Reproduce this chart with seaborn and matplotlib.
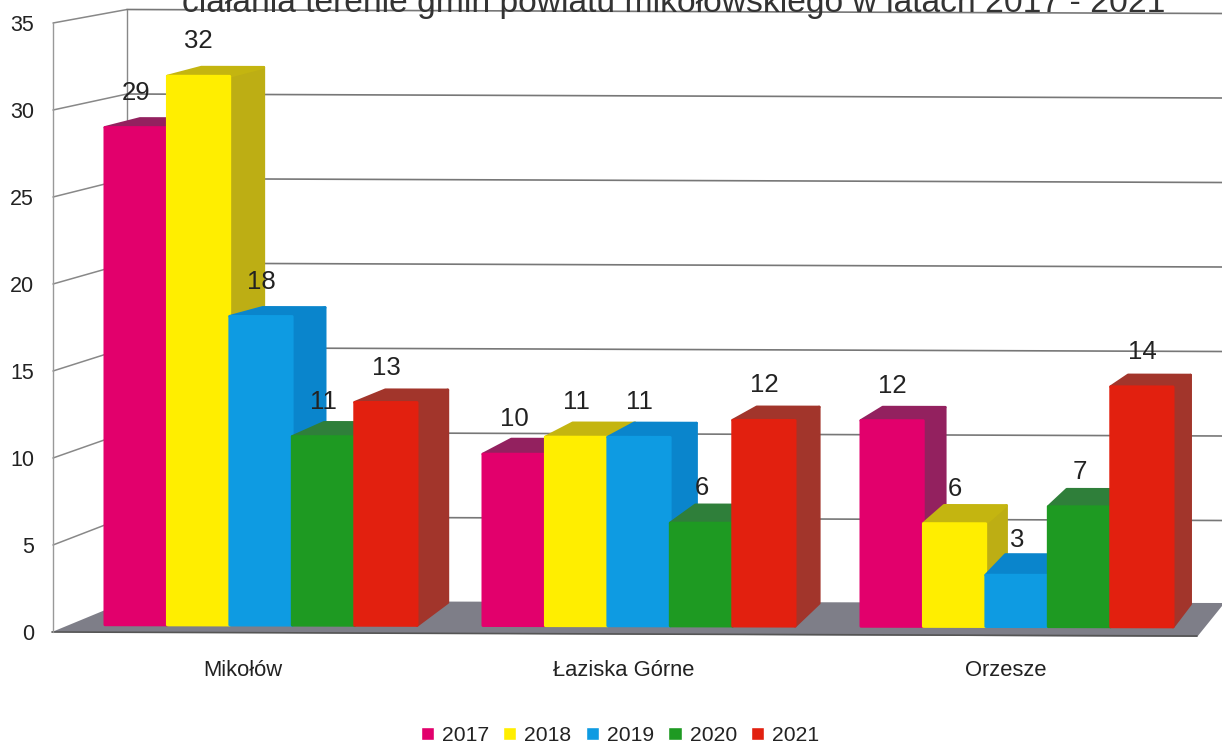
import pandas as pd
import seaborn as sns
import matplotlib.pyplot as plt
from matplotlib.patches import Polygon
from matplotlib.transforms import Affine2D

W, H = 1222, 744

title = 'ciałania terenie gmin powiatu mikołowskiego w latach 2017 - 2021'
gminy = ['Mikołów', 'Łaziska Górne', 'Orzesze']
lata = ['2017', '2018', '2019', '2020', '2021']
v2017 = [29, 10, 12]
v2018 = [32, 11, 6]
v2019 = [18, 11, 3]
v2020 = [11, 6, 7]
v2021 = [13, 12, 14]
y_ticks = [0, 5, 10, 15, 20, 25, 30, 35]

front_colors = ['#E2006C', '#FFEE00', '#0E9BE2', '#1E9A22', '#E2200F']
side_colors = ['#93215F', '#BDAE14', '#0A85CC', '#2F7F3A', '#A2352B']
top_colors = ['#93215F', '#C4B510', '#0A85CC', '#2F7F3A', '#A2352B']

df = pd.DataFrame({'gmina': gminy * 5,
                   'rok': [r for r in lata for _ in gminy],
                   'liczba': v2017 + v2018 + v2019 + v2020 + v2021})

sns.set_theme(style='white')
plt.rcParams['font.family'] = ['Liberation Sans', 'DejaVu Sans']
plt.rcParams['text.color'] = '#222222'


def px_axes(fig, left, top, right, bottom, zorder):
    a = fig.add_axes([left / W, 1 - bottom / H, (right - left) / W, (bottom - top) / H], zorder=zorder)
    a.patch.set_alpha(0)
    return a


fig = plt.figure(figsize=(W / 100, H / 100), dpi=100, facecolor='white')

# walls and floor, in pixel coordinates
frame = px_axes(fig, 0, 0, W, H, 0)
frame.set_xlim(0, W)
frame.set_ylim(H, 0)
frame.axis('off')


def y_front(v):
    return 632 - 17.4 * v


def y_back(v):
    return 601 - 16.9 * v


frame.add_patch(Polygon([(52, 632), (1197, 637), (1222, 606), (1222, 603), (127, 601)],
                        color='#7E7E88', lw=0))
frame.plot([52, 1197], [632, 636], color='#555555', lw=1.2)
for v in y_ticks[1:]:
    frame.plot([53, 127], [y_front(v), y_back(v)], color='#888888', lw=1.1)
    frame.plot([127, W], [y_back(v), y_back(v) + 4], color='#777777', lw=1.2)
frame.plot([53, 53], [y_front(35), y_front(0)], color='#999999', lw=1)
frame.plot([127, 127], [y_back(35), y_back(0)], color='#888888', lw=1)

# value axis labels
scale = px_axes(fig, 52, y_front(35), W, y_front(0), 1)
scale.set_ylim(0, 35)
scale.set_yticks(y_ticks)
scale.tick_params(axis='y', length=0, pad=13, labelsize=15.5, labelcolor='#222222')
scale.set_xticks([])
sns.despine(ax=scale, left=True, bottom=True)

# bars
ax = px_axes(fig, 52, 0, W, 625, 2)
sns.barplot(data=df, x='gmina', y='liczba', hue='rok', palette=front_colors,
            width=0.826, gap=0, saturation=1, ax=ax)
ax.patch.set_alpha(0)
ax.set_xlim((52 - 261) / 378, (W - 261) / 378)
ax.set_ylim(0, 625 / 17.15)
ax.set_yticks([])
ax.set_xlabel('')
ax.set_ylabel('')
sns.despine(ax=ax, left=True, bottom=True)

label_shift = [-18, -15, -11]
ax.set_xticks([i + label_shift[i] / 378 for i in range(3)])
ax.set_xticklabels(gminy, fontsize=15.8, color='#222222')
ax.tick_params(axis='x', length=0, pad=25.2)

# the scanned page is a little tilted: everything sinks slowly to the right
tilt = ax.transData + Affine2D().translate(-200, 0).skew_deg(0, -0.115).translate(200, 0)


def depth_x(x_data):
    # side faces get narrower towards the right of the picture
    return (38 - 0.0175 * (261 + 378 * x_data)) / 378


def depth_y(v):
    return max(9, 23 - 0.8 * v) / 17.15


for i, bars in enumerate(ax.containers):
    for rect in bars:
        x0, x1, h = rect.get_x(), rect.get_x() + rect.get_width(), rect.get_height()
        dx, dy = depth_x(x1), depth_y(h)
        side = Polygon([(x1, 0), (x1 + dx, depth_y(0)), (x1 + dx, h + dy), (x1, h)],
                       fc=side_colors[i], ec=side_colors[i], lw=2, joinstyle='round',
                       zorder=3 * i + 3, clip_on=False, transform=tilt)
        top = Polygon([(x0, h), (x0 + dx, h + dy), (x1 + dx, h + dy), (x1, h)],
                      fc=top_colors[i], ec=top_colors[i], lw=2, joinstyle='round',
                      zorder=3 * i + 3, clip_on=False, transform=tilt)
        ax.add_patch(side)
        ax.add_patch(top)
        rect.set(edgecolor=front_colors[i], linewidth=2, joinstyle='round',
                 zorder=3 * i + 4, clip_on=False, transform=tilt)
    for t in ax.bar_label(bars, padding=16.5, fontsize=18.5, color='#222222'):
        t.set_zorder(100)
        t.xycoords = tilt

sns.move_legend(ax, 'center', bbox_to_anchor=(620 / W, 1 - 735.5 / H), bbox_transform=fig.transFigure,
                ncol=5, title=None, frameon=False, fontsize=15.2, handlelength=0.62, handleheight=0.62,
                handletextpad=0.38, columnspacing=0.68, borderpad=0, borderaxespad=0)

fig.text(673.5 / W, 1 - 12 / H, title, ha='center', va='baseline', fontsize=24.2, color='#333333')

fig.savefig('out.png', dpi=100)
